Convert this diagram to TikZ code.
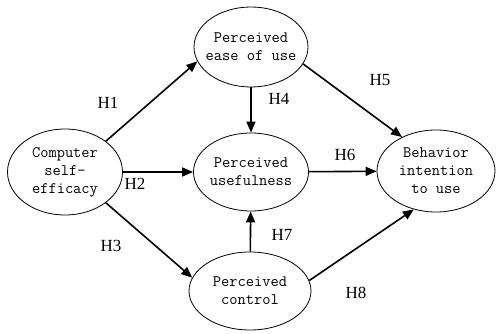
\documentclass[tikz,border=0pt]{standalone}
\usepackage{fontspec}
\usetikzlibrary{arrows.meta,shapes.geometric}
\newfontfamily\hypofont{Liberation Serif}

\tikzset{
  construct/.style={ellipse, draw, line width=0.8pt, align=center,
    inner xsep=-12pt, inner ysep=-10pt,
    font=\ttfamily\fontsize{16}{18}\selectfont},
  hypoarrow/.style={line width=1.6pt, -{Triangle[length=11pt,width=9pt]}},
  hypolabel/.style={inner sep=0pt, font=\hypofont\fontsize{17}{17}\selectfont}
}

\begin{document}
\begin{tikzpicture}[x=1pt, y=-1pt]

% === Wymiary ===
\useasboundingbox (0,0) rectangle (496,334);

% === Konstrukty ===
\node[construct, minimum width=115, minimum height=86] (cse) at (65,172)
  {Computer\\self-\\efficacy};
\node[construct, minimum width=114, minimum height=80] (peou) at (251,47)
  {Perceived\\ease of use};
\node[construct, minimum width=115, minimum height=78] (pu) at (251,172)
  {Perceived\\usefulness};
\node[construct, minimum width=118, minimum height=82] (bi) at (436,171)
  {Behavior\\intention\\to use};
\node[construct, minimum width=122, minimum height=78] (pc) at (250,291)
  {Perceived\\control};

% === Hipotezy ===
\draw[hypoarrow] (cse.37) -- (peou.195);
\draw[hypoarrow] (cse) -- (pu);
\draw[hypoarrow] (cse.-37) -- (pc.167);
\draw[hypoarrow] (peou) -- (pu);
\draw[hypoarrow] (peou.-18) -- (bi.135);
\draw[hypoarrow] (pu) -- (bi);
\draw[hypoarrow] (pc) -- (pu);
\draw[hypoarrow] (pc.10) -- (bi.240);

% === Etykiety ===
\node[hypolabel] (h1) at (108,103) {H1};
\node[hypolabel] (h2) at (135,184) {H2};
\node[hypolabel] (h3) at (111,246) {H3};
\node[hypolabel] (h4) at (279,99) {H4};
\node[hypolabel] (h5) at (380,80) {H5};
\node[hypolabel] (h6) at (345,155) {H6};
\node[hypolabel] (h7) at (282,235) {H7};
\node[hypolabel] (h8) at (356,293) {H8};

\end{tikzpicture}
\end{document}
